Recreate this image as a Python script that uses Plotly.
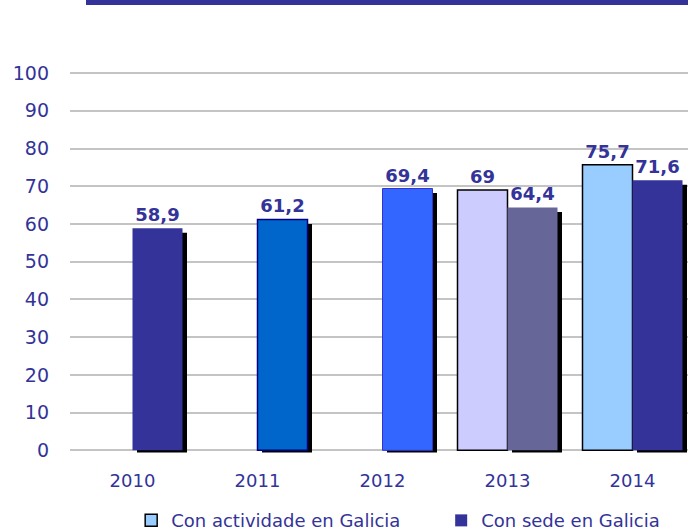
import plotly.graph_objects as go

years = ["2010", "2011", "2012", "2013", "2014"]
sede_values = [58.9, 61.2, 69.4, 64.4, 71.6]
sede_colors = ["#333399", "#0066CC", "#3366FF", "#666699", "#333399"]
sede_line_colors = ["#333399", "#000080", "#3333CC", "#666699", "#333399"]
sede_line_widths = [0, 1.5, 1, 0, 0]

# listed 2014 first so the legend swatch takes the 2014 colour
act_idx = [4, 3]
act_values = [75.7, 69.0]
act_colors = ["#99CCFF", "#CCCCFF"]

TXT = "#333399"
FONT = "DejaVu Sans"
idx = list(range(len(years)))

fig = go.Figure()

# drop shadows behind "Con sede" bars
sh_dy = 1.2
sh_base = -0.6
fig.add_trace(go.Bar(
    x=idx, y=[v - sh_dy - sh_base for v in sede_values], base=sh_base,
    offset=0.036, width=0.4, marker=dict(color="black", line=dict(width=0)),
    showlegend=False, hoverinfo="skip"))

fig.add_trace(go.Bar(
    name="Con actividade en Galicia", x=act_idx, y=act_values,
    offset=-0.4, width=0.4,
    marker=dict(color=act_colors, line=dict(color="black", width=1.5)),
    texttemplate="%{y}", textposition="outside",
    outsidetextfont=dict(family=FONT, size=18, color=TXT, weight="bold"),
    cliponaxis=False))

fig.add_trace(go.Bar(
    name="Con sede en Galicia", x=idx, y=sede_values,
    offset=0, width=0.4,
    marker=dict(color=sede_colors, line=dict(color=sede_line_colors, width=sede_line_widths)),
    texttemplate="%{y}", textposition="outside",
    outsidetextfont=dict(family=FONT, size=18, color=TXT, weight="bold"),
    cliponaxis=False))

fig.update_layout(
    width=688, height=532,
    margin=dict(l=70, r=0, t=58, b=76, autoexpand=False),
    paper_bgcolor="white", plot_bgcolor="white",
    barmode="overlay", separators=",.",
    font=dict(family=FONT, size=18, color=TXT),
    xaxis=dict(range=[-0.5, 4.444], tickvals=idx, ticktext=years,
               showgrid=False, zeroline=False, showline=False, ticks="",
               ticklabelstandoff=12,
               tickfont=dict(family=FONT, size=18, color=TXT)),
    yaxis=dict(range=[-1.5, 104], tickvals=list(range(0, 101, 10)),
               showgrid=True, gridcolor="#C4C4C4", gridwidth=1.5,
               zeroline=False, showline=False, ticks="",
               ticklabelstandoff=20,
               tickfont=dict(family=FONT, size=19, color=TXT)),
    legend=dict(orientation="h", x=0.099, xanchor="left", y=-0.116, yanchor="top",
                font=dict(family=FONT, size=18, color=TXT), traceorder="normal",
                itemwidth=30, entrywidth=265),
    showlegend=True,
    shapes=[dict(type="rect", xref="paper", yref="paper",
                 x0=16/618, x1=1.0, y0=1 + 53/398, y1=1 + 58/398,
                 fillcolor="#333399", line=dict(width=0))],
)

fig.write_html("out.html")
